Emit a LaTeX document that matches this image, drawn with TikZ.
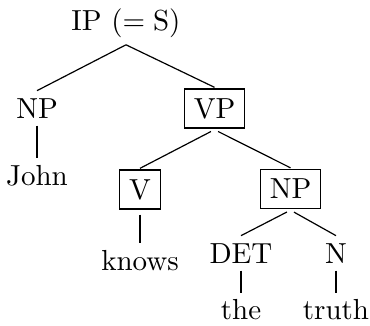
\documentclass[tikz,border=0pt]{standalone}
\usetikzlibrary{positioning}
\tikzset{word/.style={scale=2.9,inner sep=2pt}}
\tikzset{cat/.style={word,draw,inner xsep=3.2pt,inner ysep=0pt,minimum height=13.4pt}}

\begin{document}
\begin{tikzpicture}[
x = 1pt, y = -1pt, % pixel grid, y down
node distance = 32pt, % border to border
line width = 1.2pt
]
\useasboundingbox (0,0) rectangle (370,325);

\node[word, anchor=base] (ip) at (126,30) {IP $(=\mathrm{S})$};
\node[word, anchor=base] (np) at (37,118) {NP};
\node[cat] (vp) at (214.5,108.5) {VP};
\node[word] (john) [below=of np] {John};
\node[cat] (v) at (140,189.5) {V};
\node[cat] (obj) at (290.5,189) {NP};
\node[word] (knows) [below=of v] {knows};
\node[word, anchor=base] (det) at (241,263) {DET};
\node[word, anchor=base] (n) at (336,263) {N};
\node[word, inner ysep=0.8pt] (the) [below=25pt of det] {the};
\node[word, inner ysep=0.8pt] (truth) [below=25pt of n] {truth};

\path (ip.south) edge (np.north) edge (vp.north);
\path (np.south) edge (john.north);
\path[shorten <=4pt] (vp.south) edge (v.north) edge (obj.north);
\path[shorten <=4pt] (v.south) edge (knows.north);
\path[shorten <=4pt] (obj.south) edge (det.north) edge (n.north);
\path[shorten >=3pt] (det.south) edge (the.north);
\path[shorten >=3pt] (n.south) edge (truth.north);
\end{tikzpicture}
\end{document}
